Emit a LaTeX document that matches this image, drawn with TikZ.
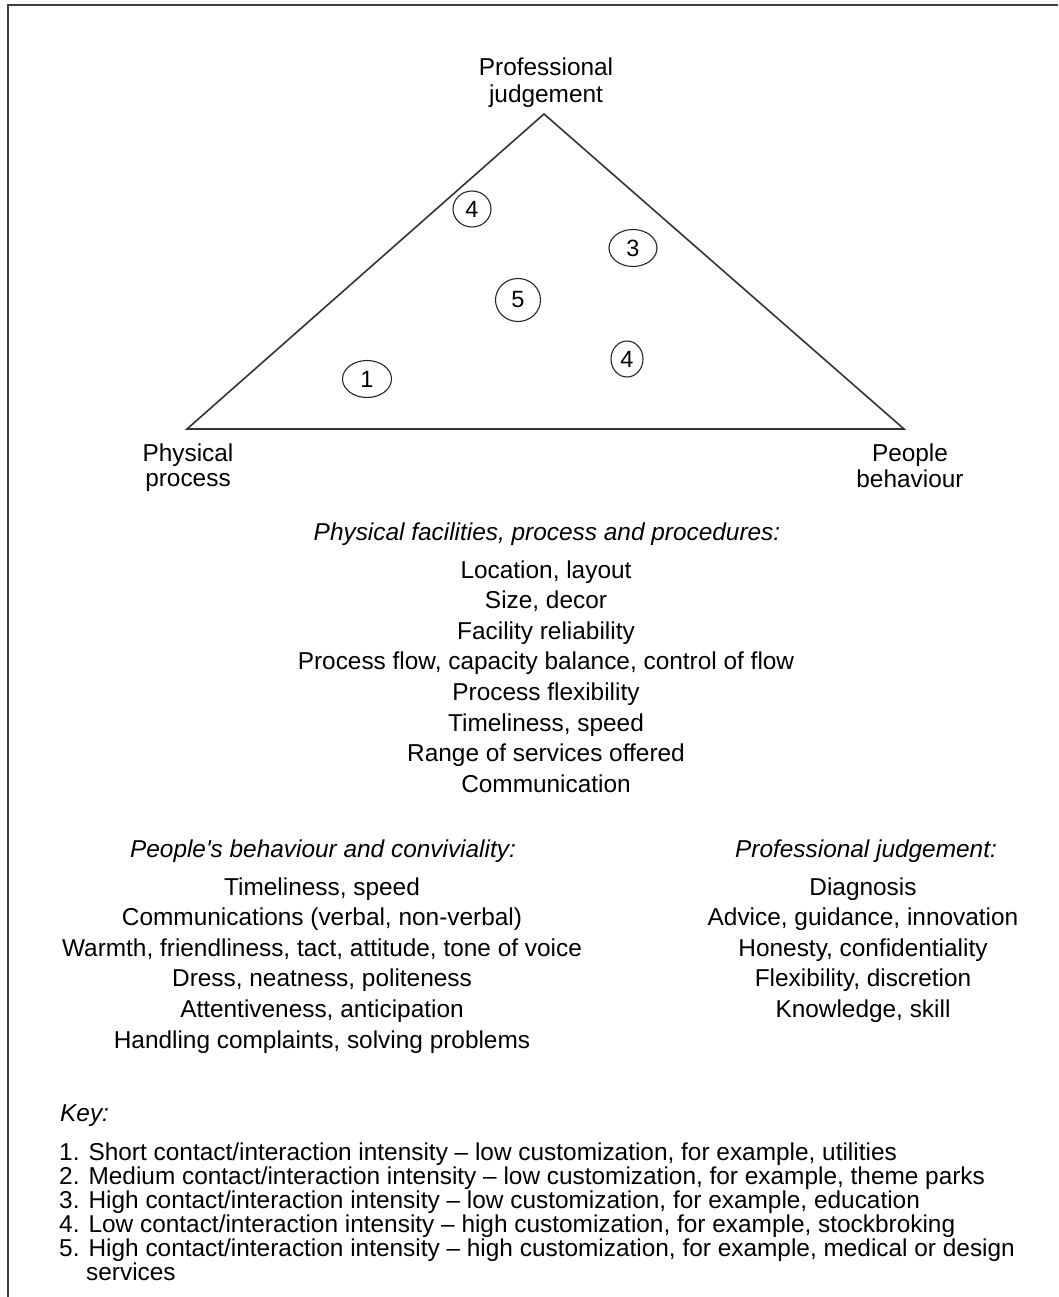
\documentclass[tikz,border=0pt]{standalone}
\usepackage{fontspec}
\setmainfont{Liberation Sans}
\usetikzlibrary{shapes.geometric}
\begin{document}
\begin{tikzpicture}[x=1pt,y=-1pt]
\tikzset{
  frame/.style={line width=2pt, draw=black!75},
  tri/.style={line width=1.6pt, draw=black!80, line join=miter},
  numring/.style={draw=black!85, line width=1.1pt, ellipse, inner sep=0pt,
                  font=\fontsize{23.5}{24}\selectfont},
  vlabel/.style={align=center, inner sep=0pt, font=\fontsize{24.4}{25}\selectfont},
  head/.style={inner sep=0pt, anchor=base, font=\fontsize{24.4}{30}\selectfont\itshape},
  item/.style={inner sep=0pt, anchor=base, font=\fontsize{24.4}{30}\selectfont},
  keyhead/.style={inner sep=0pt, anchor=base west, font=\fontsize{24.4}{24}\selectfont\itshape},
  keyline/.style={inner sep=0pt, anchor=base west, font=\fontsize{24.4}{24}\selectfont},
}
\useasboundingbox (0,0) rectangle (1058,1297);
\fill[white] (0,0) rectangle (1058,1297);

% open frame: left and top edges
\draw[frame] (8,1297) -- (8,5) -- (1058,5);

% triangle of service dimensions
\coordinate (apex) at (544,114);
\coordinate (pp) at (187,429);
\coordinate (pb) at (904,429);
\draw[tri] (pp) -- (apex) -- (pb) -- cycle;

\node[vlabel] (tprof) at (546,84) {Professional\strut\\judgement\strut};
\node[vlabel] (tphys) at (188,469) {Physical\strut\\process\strut};
\node[vlabel] (tpeop) at (910,469) {People\strut\\behaviour\strut};

% positions of the service types
\node[numring, minimum width=38pt, minimum height=36pt] (n4a) at (472,209) {4};
\node[numring, minimum width=48pt, minimum height=37pt] (n3)  at (633,248) {3};
\node[numring, minimum width=45pt, minimum height=43pt] (n5)  at (518,300) {5};
\node[numring, minimum width=32pt, minimum height=36pt] (n4b) at (627,359) {4};
\node[numring, minimum width=49pt, minimum height=37pt] (n1)  at (367,379) {1};

% physical facilities
\node[head] (hphys) at (547,540) {Physical facilities, process and procedures:};
\foreach \t [count=\i] in {{Location, layout},{Size, decor},{Facility reliability},
  {Process flow, capacity balance, control of flow},{Process flexibility},
  {Timeliness, speed},{Range of services offered},{Communication}}
  \node[item] (pf\i) at (546,{578+30.6*(\i-1)}) {\t};

% people's behaviour
\node[head] (hpeop) at (323,857) {People\textquotesingle s behaviour and conviviality:};
\foreach \t [count=\i] in {{Timeliness, speed},{Communications (verbal, non-verbal)},
  {Warmth, friendliness, tact, attitude, tone of voice},{Dress, neatness, politeness},
  {Attentiveness, anticipation},{Handling complaints, solving problems}}
  \node[item] (pb\i) at (322,{895+30.6*(\i-1)}) {\t};

% professional judgement
\node[head] (hprof) at (866,857) {Professional judgement:};
\foreach \t [count=\i] in {{Diagnosis},{Advice, guidance, innovation},
  {Honesty, confidentiality},{Flexibility, discretion},{Knowledge, skill}}
  \node[item] (pj\i) at (863,{895+30.6*(\i-1)}) {\t};

% key
\node[keyhead] (key) at (60,1121) {Key:};
\node[keyline] (k1) at (59,1160) {1. Short contact/interaction intensity -- low customization, for example, utilities};
\node[keyline] (k2) at (59,1184) {2. Medium contact/interaction intensity -- low customization, for example, theme parks};
\node[keyline] (k3) at (59,1208) {3. High contact/interaction intensity -- low customization, for example, education};
\node[keyline] (k4) at (59,1232) {4. Low contact/interaction intensity -- high customization, for example, stockbroking};
\node[keyline] (k5) at (59,1256) {5. High contact/interaction intensity -- high customization, for example, medical or design};
\node[keyline] (k6) at (86,1280) {services};
\end{tikzpicture}
\end{document}
